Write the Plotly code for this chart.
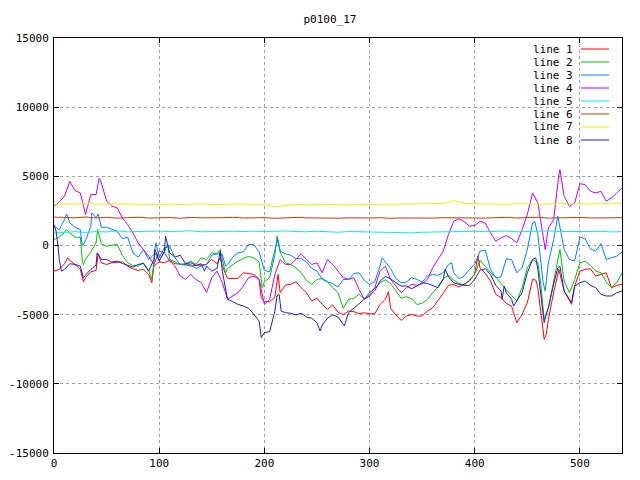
import plotly.graph_objects as go

# ---------------- data ----------------
l1_x = [0, 5, 10, 13, 15, 20, 25, 28, 30, 35,
        40, 42, 45, 50, 55, 60, 65, 70, 75, 80,
        85, 90, 93, 95, 100, 105, 110, 115, 120, 125,
        130, 135, 140, 145, 150, 155, 158, 160, 165, 170,
        175, 180, 185, 190, 195, 197, 200, 205, 210, 213,
        215, 220, 225, 230, 235, 240, 245, 250, 255, 260,
        265, 270, 275, 280, 285, 290, 295, 300, 305, 310,
        315, 318, 320, 325, 330, 335, 340, 345, 350, 355,
        360, 365, 370, 375, 380, 385, 390, 395, 400, 403,
        405, 410, 415, 420, 425, 430, 435, 440, 445, 450,
        455, 458, 460, 463, 466, 468, 470, 475, 480, 485,
        490, 492, 495, 500, 505, 510, 515, 520, 525, 530,
        535, 540]
l1_y = [-1850, -1730, -1320, -890, -1080, -1370, -1730, -2620, -2330, -1900,
        -1800, -600, -1250, -1370, -1250, -1200, -1180, -1490, -1680, -1800,
        -1730, -2090, -2690, -1490, -1180, -1250, -1080, -1320, -1320, -1370,
        -1490, -1440, -1420, -1370, -1010, -1320, -890, -1490, -2380, -2380,
        -2380, -1970, -2040, -2090, -2450, -3770, -4060, -4060, -3730, -2090,
        -3410, -2860, -2810, -2620, -3050, -3410, -4010, -3820, -4260, -4620,
        -4300, -4830, -5000, -4740, -4780, -4930, -4860, -4930, -4930, -4260,
        -3890, -3340, -4540, -5020, -5410, -5100, -4980, -5100, -5100, -4740,
        -4500, -4010, -3460, -2880, -2810, -3000, -2810, -2570, -2020, -770,
        -1610, -2020, -2570, -3530, -3770, -4180, -4380, -5580, -4980, -4130,
        -2450, -2500, -3050, -5100, -6780, -6420, -5340, -3410, -1730, -3290,
        -3940, -4260, -2930, -1850, -1730, -1680, -2210, -2090, -1970, -3050,
        -2880, -2810]

l2_x = [0, 5, 10, 12, 15, 20, 25, 27, 28, 30,
        35, 40, 41.5, 45, 50, 55, 60, 65, 70, 75,
        80, 85, 90, 93, 95, 96, 100, 105, 108, 110,
        115, 120, 125, 130, 135, 140, 145, 150, 155, 158,
        160, 163, 165, 170, 175, 180, 185, 190, 195, 197,
        198, 200, 205, 210, 212, 215, 220, 225, 230, 235,
        240, 245, 250, 255, 260, 265, 270, 275, 280, 285,
        290, 295, 300, 305, 310, 315, 320, 325, 330, 335,
        340, 345, 350, 355, 360, 365, 370, 375, 380, 385,
        390, 395, 400, 405, 410, 415, 420, 425, 430, 435,
        440, 445, 450, 455, 460, 463, 465, 466, 470, 475,
        478, 481, 485, 490, 495, 500, 505, 510, 515, 520,
        525, 530, 535, 540]
l2_y = [430, 600, 960, 1150, 910, 600, 600, -1130, -1370, -1010,
        -460, 190, 1150, 120, -50, 20, 70, -700, -1250, -1440,
        -1490, -1250, -1800, -2450, -1370, -530, -1080, -460, 120, -1010,
        -1180, -1370, -1320, -1130, -1370, -890, -1010, -530, -600, -290,
        -1010, -1970, -1660, -1370, -1130, -940, -790, -890, -1180, -2450,
        -3050, -2620, -2330, -700, 670, -460, -1250, -1370, -1610, -1970,
        -2520, -2810, -2450, -2380, -2620, -3050, -3410, -4540, -3890, -3820,
        -3530, -3890, -3370, -3100, -2690, -2480, -2760, -3250, -3820, -3700,
        -3850, -4260, -4180, -3890, -3410, -2980, -2400, -2160, -2500, -2740,
        -2880, -2450, -2090, -1060, -1490, -1970, -2260, -2740, -3220, -3610,
        -4010, -3050, -1610, -1010, -1250, -2930, -4980, -5340, -4500, -2690,
        -1490, -290, -2570, -3410, -2450, -1250, -1130, -1440, -1850, -1970,
        -2640, -3050, -2690, -1970]

l3_x = [0, 5, 10, 12, 15, 20, 25, 27, 30, 35,
        36, 40, 42, 45, 50, 55, 60, 65, 70, 75,
        80, 85, 90, 95, 97, 100, 105, 110, 115, 120,
        125, 130, 135, 140, 145, 150, 155, 160, 163, 165,
        170, 175, 180, 185, 190, 195, 200, 205, 210, 213,
        215, 220, 225, 230, 235, 240, 245, 250, 255, 260,
        265, 270, 275, 280, 285, 290, 295, 300, 305, 310,
        312, 315, 320, 325, 330, 335, 340, 345, 350, 355,
        360, 365, 370, 375, 378, 380, 385, 390, 395, 400,
        405, 410, 415, 420, 425, 430, 435, 440, 445, 450,
        455, 457, 460, 465, 467, 470, 475, 479, 485, 490,
        495, 500, 505, 510, 515, 520, 525, 530, 535, 540]
l3_y = [1390, 1150, 1870, 2280, 1630, 1320, 1150, -50, 360, 1390,
        2360, 2000, 2280, 1320, 1320, 1150, 1030, 500, 600, -530,
        -840, -290, -1010, -650, 190, -890, -170, -50, -890, -1370,
        -1420, -1370, -1660, -1490, -1370, -700, -600, -650, -1490, -1370,
        -840, -530, -460, 70, 70, -460, -1800, -1900, -290, 430,
        -410, -600, -700, -940, -960, -1180, -1660, -1850, -2450, -2620,
        -2760, -3000, -2450, -2450, -2040, -1970, -2520, -2810, -2620, -1490,
        -890, -1180, -1660, -2380, -2690, -2640, -2330, -2450, -2640, -2210,
        -2090, -2160, -1970, -1370, -1250, -1970, -2400, -2210, -1730, -1370,
        -410, -340, -1730, -2330, -2260, -960, -1010, -1970, -1610, -290,
        1630, 1750, 790, -2690, -3290, -1250, 430, 2120, -290, -1010,
        -1130, 620, 480, -240, -410, 140, -1010, -890, -770, -480]

l4_x = [0, 5, 10, 15, 20, 25, 30, 35, 40, 43,
        45, 50, 55, 60, 65, 70, 75, 80, 85, 90,
        95, 100, 105, 110, 115, 120, 125, 130, 135, 140,
        145, 150, 155, 160, 165, 170, 175, 180, 185, 190,
        195, 200, 205, 210, 215, 220, 225, 230, 235, 240,
        245, 250, 255, 260, 265, 270, 275, 280, 285, 290,
        295, 300, 305, 310, 315, 320, 325, 330, 335, 340,
        345, 350, 355, 360, 365, 370, 375, 380, 385, 390,
        395, 400, 405, 410, 415, 420, 425, 430, 435, 440,
        445, 450, 455, 460, 465, 467, 470, 475, 480, 481,
        485, 490, 495, 500, 505, 510, 515, 520, 525, 530,
        535, 540]
l4_y = [2840, 3150, 3560, 4640, 3970, 3800, 2240, 3680, 3680, 4880,
        4520, 3200, 2840, 2720, 2000, 1510, 910, 190, -290, -770,
        -1370, -410, -530, -1130, -1490, -2210, -2450, -2090, -2450, -2690,
        -3410, -2330, -1850, -2690, -3890, -3650, -3410, -2930, -2330, -2210,
        -2450, -4260, -3890, -2090, -1010, -1370, -1370, -1010, -600, -1010,
        -1370, -1250, -1970, -1010, -1370, -1850, -2330, -2450, -2330, -3170,
        -3890, -3530, -3050, -1850, -1490, -2450, -2930, -3410, -3050, -2810,
        -2880, -2760, -2450, -1610, -1010, -410, 790, 1750, 1920, 1730,
        1390, 1440, 1750, 1630, 910, 310, 550, 720, 500, 190,
        1150, 2240, 3800, 3080, 670, -290, 1270, 1870, 5120, 5480,
        3560, 2840, 3080, 4470, 4400, 3920, 3800, 3920, 3200, 3440,
        3800, 4160]

flat_x = [0, 10, 20, 30, 40, 50, 60, 70, 80, 90,
          100, 110, 120, 130, 140, 150, 160, 170, 180, 190,
          200, 210, 220, 230, 240, 250, 260, 270, 280, 290,
          300, 310, 320, 330, 340, 350, 360, 370, 380, 390,
          400, 410, 420, 430, 440, 450, 460, 470, 480, 490,
          500, 510, 520, 530, 540]
l5_y = [900, 960, 1000, 940, 1010, 980, 1050, 990, 1020, 1000,
        1040, 1000, 1010, 1060, 990, 1020, 1000, 1030, 1010, 1040,
        1000, 1020, 1050, 1010, 990, 1030, 1000, 960, 1010, 980,
        990, 960, 950, 930, 910, 960, 980, 1000, 1020, 990,
        1030, 1000, 1010, 1040, 990, 1020, 1000, 1050, 1010, 1000,
        1040, 1010, 1030, 980, 1000]
l6_y = [2050, 2020, 2000, 2060, 1990, 2030, 1980, 2010, 2040, 1990,
        2000, 2020, 1970, 2030, 2000, 1980, 2010, 2040, 1990, 2000,
        2020, 1960, 1990, 2030, 2000, 1980, 2010, 1970, 2000, 1980,
        1990, 2010, 1960, 1990, 1970, 2000, 1980, 2010, 1990, 2020,
        2000, 1980, 2010, 2030, 1990, 2000, 2040, 1980, 2010, 2000,
        2030, 1990, 2020, 2000, 2010]
l7_y = [2950, 3020, 2980, 3050, 2990, 3000, 2960, 3010, 2970, 2990,
        2950, 3000, 2960, 2990, 3010, 2960, 2980, 2950, 3000, 2970,
        2990, 2780, 2900, 2960, 2940, 2980, 2950, 2990, 2930, 2970,
        2960, 3000, 2980, 2990, 3010, 2990, 3000, 3040, 3250, 3060,
        3020, 3000, 3010, 2980, 3020, 3000, 3030, 2990, 3040, 3000,
        3020, 2990, 3030, 3010, 3050]

l8_x = [0, 2, 4, 5, 7, 10, 15, 20, 25, 28,
        30, 35, 40, 41, 45, 50, 55, 60, 65, 70,
        75, 80, 85, 90, 95, 96, 100, 105, 106, 110,
        115, 120, 125, 130, 135, 140, 143, 145, 150, 155,
        158, 160, 163, 165, 170, 175, 180, 185, 190, 195,
        197, 200, 205, 210, 212, 214, 216, 220, 225, 230,
        235, 240, 245, 250, 253, 255, 260, 265, 270, 275,
        276, 280, 285, 290, 295, 300, 305, 310, 315, 320,
        325, 330, 335, 340, 345, 350, 355, 360, 365, 370,
        372, 375, 380, 385, 390, 395, 400, 405, 410, 415,
        420, 425, 426, 428, 430, 435, 437, 440, 445, 450,
        455, 458, 460, 463, 466, 468, 470, 475, 479, 481,
        485, 490, 492, 495, 500, 505, 510, 515, 520, 525,
        530, 535, 540]
l8_y = [1510, 1030, -170, -1010, -1850, -1730, -1320, -1370, -1490, -2330,
        -2140, -1730, -1420, -530, -1010, -1010, -1200, -1130, -1300, -1440,
        -1560, -1370, -1300, -1850, -1010, -290, -1130, -410, 670, -530,
        -840, -700, -1320, -1250, -1440, -1320, -1850, -1490, -1850, -1660,
        -410, -1850, -3170, -3890, -4060, -4260, -4380, -4540, -4980, -5460,
        -6660, -6300, -6230, -4740, -3650, -3530, -4740, -4860, -4900, -5020,
        -4900, -5170, -5260, -5580, -6180, -5750, -5260, -5020, -5170, -5650,
        -5820, -4860, -4500, -4210, -3890, -3650, -3250, -2570, -2240, -2400,
        -2690, -2930, -2930, -3130, -2930, -2690, -2740, -2880, -3050, -2450,
        -1730, -2260, -2690, -2810, -2880, -2880, -2450, -1780, -1680, -2090,
        -2880, -3290, -3890, -2930, -3410, -3890, -4380, -4000, -3410, -1970,
        -1010, -890, -1730, -3650, -5580, -4980, -4500, -2810, -1610, -1490,
        -3290, -3890, -4130, -2930, -2690, -2570, -2880, -3050, -3530, -3650,
        -3650, -3410, -3290]

series_names = ["line 1", "line 2", "line 3", "line 4",
                "line 5", "line 6", "line 7", "line 8"]
series_colors = ["#ff0000", "#00c000", "#0080ff", "#c000ff",
                 "#00eeee", "#c04000", "#eeee00", "#2020c0"]

x_ticks = [0, 100, 200, 300, 400, 500]
y_ticks = [-15000, -10000, -5000, 0, 5000, 10000, 15000]
y_tick_labels = ["-15000", "-10000", "-5000", "0", "5000", "10000", "15000"]
title_text = "p0100_17"

# ---------------- figure ----------------
series_xy = [(l1_x, l1_y), (l2_x, l2_y), (l3_x, l3_y), (l4_x, l4_y),
             (flat_x, l5_y), (flat_x, l6_y), (flat_x, l7_y), (l8_x, l8_y)]

FONT = "DejaVu Sans Mono"
# the page body has an 8px margin, so the figure is drawn 8px in from the window edge
OFF = 8
FIG_W, FIG_H = 640 - OFF, 480 - OFF
# plot-area edges in window pixels
PL, PR, PT, PB = 54, 622, 38, 453
L, R, T, B = PL - OFF, 640 - PR, PT - OFF, 480 - PB
W, H = PR - PL, PB - PT


def px2x(px):
    return (px - PL) / W


def py2y(py):
    return (PB - py) / H


fig = go.Figure()
for name, color, (xs, ys) in zip(series_names, series_colors, series_xy):
    fig.add_trace(go.Scatter(x=xs, y=ys, mode="lines", name=name,
                             line=dict(color=color, width=1),
                             showlegend=False, hoverinfo="skip"))

# gnuplot-style key: text on the left, line sample on the right
for i, (name, color) in enumerate(zip(series_names, series_colors)):
    yrow = py2y(49 + 13 * i)
    fig.add_annotation(x=px2x(575), y=yrow, xref="paper", yref="paper",
                       text=name, showarrow=False, xanchor="right",
                       yanchor="middle", font=dict(family=FONT, size=11, color="black"))
    fig.add_shape(type="line", xref="paper", yref="paper",
                  x0=px2x(581), x1=px2x(609), y0=yrow, y1=yrow,
                  line=dict(color=color, width=1))

axis_common = dict(showline=True, linecolor="black", linewidth=1, mirror="ticks",
                   ticks="inside", ticklen=5, tickcolor="black", tickwidth=1,
                   showgrid=True, gridcolor="#a0a0a0", griddash="dot", gridwidth=1,
                   zeroline=False, automargin=False,
                   tickfont=dict(family=FONT, size=11, color="black"))

fig.update_layout(
    width=FIG_W, height=FIG_H,
    margin=dict(l=L, r=R, t=T, b=B),
    paper_bgcolor="white", plot_bgcolor="white",
    title=dict(text=title_text, x=px2x(330), xref="paper", xanchor="center",
               y=1 - (19 - OFF) / FIG_H, yanchor="middle",
               font=dict(family=FONT, size=11, color="black")),
    xaxis=dict(range=[0, 540], tickvals=x_ticks, **axis_common),
    yaxis=dict(range=[-15000, 15000], tickvals=y_ticks, ticktext=y_tick_labels,
               ticklabelstandoff=2, **axis_common),
)

fig.write_html("out.html")
